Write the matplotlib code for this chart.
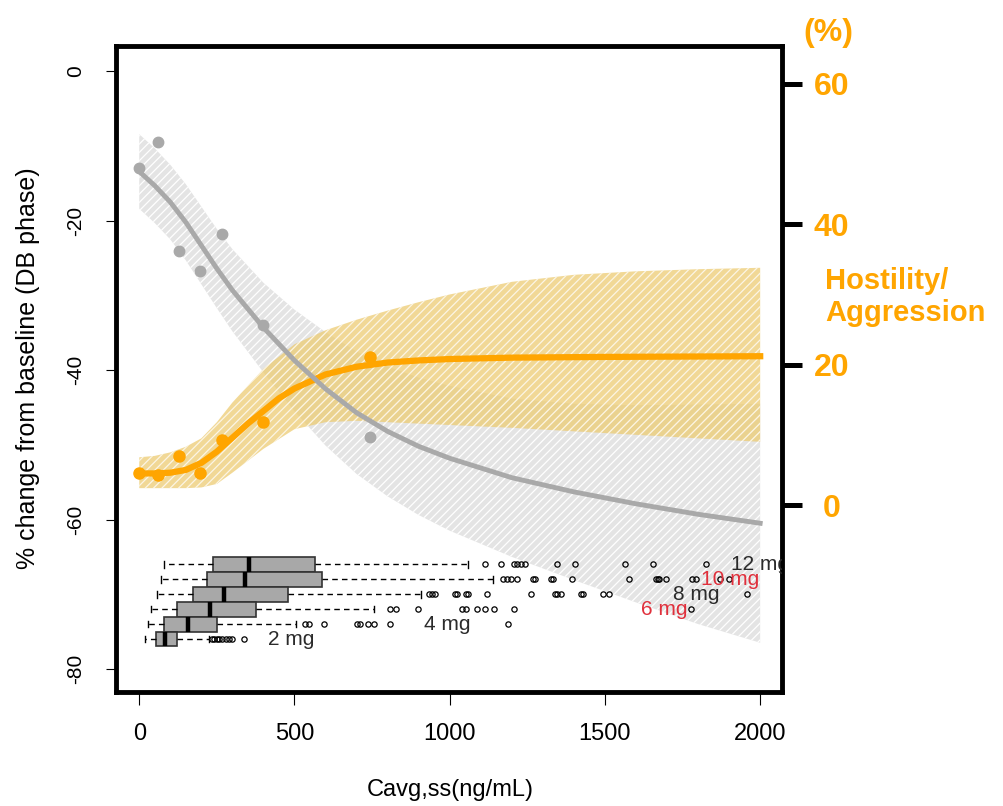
import matplotlib.pyplot as plt

plt.rcParams['font.family'] = ['Liberation Sans', 'DejaVu Sans']
plt.rcParams['axes.unicode_minus'] = False
plt.rcParams['hatch.linewidth'] = 0.9

# model fit, % change from baseline (left axis)
conc = [0, 50, 100, 150, 200, 250, 300, 400, 500, 600, 700, 800, 900, 1000, 1200, 1400, 1600, 1800, 2000]
pct_fit = [-13.4, -15.3, -17.5, -20.2, -23.3, -26.4, -29.3, -34.3, -38.7, -42.5, -45.7, -48.2, -50.2, -51.8,
           -54.4, -56.3, -57.9, -59.3, -60.5]
pct_hi = [-8.4, -10.3, -12.5, -15.1, -18.1, -21.1, -23.8, -28.3, -31.9, -34.9, -37.5, -39.5, -41.0, -42.1,
          -43.8, -44.5, -44.7, -44.6, -44.5]
pct_lo = [-18.4, -20.3, -22.5, -25.3, -28.5, -31.7, -34.8, -40.3, -45.5, -50.1, -53.9, -56.9, -59.4, -61.5,
          -65.0, -68.1, -71.1, -74.0, -76.5]

# hostility / aggression incidence (right axis, %)
hs_x = [0, 50, 100, 150, 200, 250, 300, 350, 400, 450, 500, 600, 700, 800, 900, 1000, 1200, 1500, 2000]
hs_fit = [4.5, 4.5, 4.6, 5.0, 6.0, 7.6, 9.6, 11.6, 13.4, 15.2, 16.6, 18.6, 19.7, 20.3, 20.6, 20.8, 21.0, 21.1, 21.2]
hs_hi = [6.8, 7.0, 7.5, 8.3, 9.5, 11.8, 14.6, 19.4, 22.9, 24.9, 26.4, 27.7, 28.9, 30.0, 31.8, 32.8, 33.3, 33.6, 33.8]
hs_lo = [2.4, 2.4, 2.4, 2.4, 2.5, 3.0, 4.6, 8.0, 10.8, 11.8, 12.0, 11.8, 11.6, 11.4, 11.0, 10.5, 10.0, 9.5, 9.0]

# observed group means
obs_conc = [0, 60, 128, 195, 266, 400, 744]
obs_pct = [-12.9, -9.4, -24.0, -26.7, -21.8, -33.9, -48.9]
obs_hs = [4.6, 4.3, 7.0, 4.6, 9.3, 11.8, 21.1]

# exposure by dose (boxplots), top row first
doses = ['12 mg', '10 mg', '8 mg', '6 mg', '4 mg', '2 mg']
box_lo = [79, 69, 58, 37, 27, 20]
box_q1 = [236, 219, 174, 121, 79, 54]
box_med = [354, 342, 272, 229, 156, 83]
box_q3 = [566, 590, 478, 376, 250, 121]
box_hi = [1059, 1140, 909, 755, 506, 225]
box_out = [
    [1115, 1166, 1206, 1216, 1230, 1241, 1346, 1402, 1566, 1654, 1825],
    [1171, 1185, 1199, 1216, 1269, 1276, 1325, 1332, 1395, 1577, 1664, 1670, 1675, 1696, 1780, 1794, 1871, 1899],
    [933, 944, 954, 1017, 1024, 1052, 1059, 1119, 1262, 1339, 1346, 1360, 1423, 1430, 1493, 1514, 1958],
    [807, 828, 898, 1038, 1052, 1087, 1115, 1143, 1206, 1778],
    [534, 548, 594, 702, 712, 737, 755, 807, 1189],
    [233, 240, 250, 258, 268, 278, 289, 300, 338],
]
label_x = [1905, 1808, 1720, 1615, 918, 415]

orange = '#FFA500'
grey = '#A9A9A9'
red = '#E0303C'

fig = plt.figure(figsize=(10.04, 8.06), dpi=100)
ax = fig.add_axes([0.1155, 0.1414, 0.6633, 0.8015])
ax.set_xlim(-75, 2070)
ax.set_ylim(-83.1, 3.4)

ax.fill_between(conc, pct_lo, pct_hi, facecolor='#E4E4E4', edgecolor='white',
                hatch='////', linewidth=0, zorder=1)

box_pos = [-66, -68, -70, -72, -74, -76]
stats = []
for i in range(len(doses)):
    stats.append(dict(whislo=box_lo[i], q1=box_q1[i], med=box_med[i], q3=box_q3[i],
                      whishi=box_hi[i], fliers=box_out[i]))
ax.bxp(stats, positions=box_pos, widths=2.0, orientation='horizontal',
       patch_artist=True, manage_ticks=False, capwidths=0.9, zorder=3,
       boxprops=dict(facecolor='#A8A8A8', edgecolor='#333333', linewidth=1.2),
       medianprops=dict(color='black', linewidth=3.2, solid_capstyle='butt'),
       whiskerprops=dict(color='black', linestyle=(0, (4, 3)), linewidth=1),
       capprops=dict(color='black', linewidth=1),
       flierprops=dict(marker='o', markersize=3.8, markerfacecolor='none',
                       markeredgecolor='black', markeredgewidth=0.9))

for i, d in enumerate(doses):
    c = red if d in ('10 mg', '6 mg') else '#2b2b2b'
    ax.text(label_x[i], box_pos[i], d, color=c, fontsize=15, ha='left', va='center',
            zorder=5, clip_on=True)

ax.set_xticks([0, 500, 1000, 1500, 2000])
ax.set_yticks([0, -20, -40, -60, -80])
ax.tick_params(axis='x', length=9, width=0.8, pad=13, labelsize=17)
ax.tick_params(axis='y', length=7, width=0.8, pad=15, labelsize=15)
for lab in ax.get_yticklabels():
    lab.set_rotation(90)
    lab.set_va('center')
for s in ax.spines.values():
    s.set_linewidth(3.5)

ax2 = ax.twinx()
ax2.set_ylim(-26.65, 65.4)
ax2.fill_between(hs_x[:1] + conc[1:], hs_lo, hs_hi, facecolor=(0.93, 0.80, 0.45), alpha=0.75,
                 edgecolor='white', hatch='////', linewidth=0, zorder=1)
ax2.plot(hs_x, hs_fit, color=orange, lw=4.5, zorder=3)
ax2.plot(obs_conc, obs_hs, 'o', color=orange, ms=8, zorder=3)
ax2.plot(conc, pct_fit, color=grey, lw=3.5, zorder=4, transform=ax.transData)
ax2.plot(obs_conc, obs_pct, 'o', color=grey, ms=7.5, zorder=4, transform=ax.transData)

ax2.set_yticks([0, 20, 40, 60])
ax2.tick_params(axis='y', length=14.5, width=3.6, pad=21, labelsize=23, labelcolor=orange)
for lab in ax2.get_yticklabels():
    lab.set_fontweight('bold')
    lab.set_ha('center')
for s in ax2.spines.values():
    s.set_visible(False)

fig.text(828 / 1004, 1 - 33 / 806, '(%)', color=orange, fontsize=23, fontweight='bold',
         ha='center', va='center')
fig.text(825 / 1004, 1 - 297 / 806, 'Hostility/\nAggression', color=orange, fontsize=21,
         fontweight='bold', ha='left', va='center', linespacing=1.15)
fig.text(28 / 1004, 1 - 368 / 806, '% change from baseline (DB phase)', fontsize=18,
         rotation=90, ha='center', va='center')
fig.text(450 / 1004, 1 - 790 / 806, 'Cavg,ss(ng/mL)', fontsize=17, ha='center', va='center')

fig.savefig('out.png', dpi=100)
